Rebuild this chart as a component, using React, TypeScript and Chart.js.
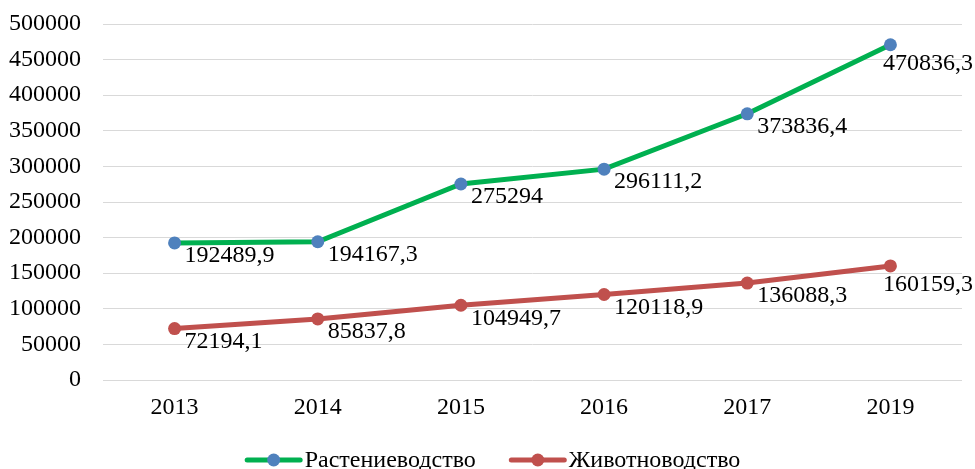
import React, { useEffect, useRef } from "react";
import { Chart, registerables } from "chart.js";

Chart.register(...registerables);

const years = ["2013", "2014", "2015", "2016", "2017", "2019"];
const cropValues = [192489.9, 194167.3, 275294, 296111.2, 373836.4, 470836.3];
const livestockValues = [72194.1, 85837.8, 104949.7, 120118.9, 136088.3, 160159.3];
const seriesNames = ["Растениеводство", "Животноводство"];
const yMin = 0;
const yMax = 500000;
const yStep = 50000;

const FONT = '"Liberation Serif", "Times New Roman", serif';
const FS = 24;
const GREEN = "#00b050";
const BLUE = "#4f81bd";
const RED = "#c0504d";

const fmt = (v: number) => String(v).replace(".", ",");

const labelPlugin = {
  id: "valueLabels",
  afterDatasetsDraw(chart: any) {
    const ctx = chart.ctx;
    ctx.save();
    ctx.font = `${FS}px ${FONT}`;
    ctx.fillStyle = "#000";
    ctx.textAlign = "left";
    ctx.textBaseline = "middle";
    chart.data.datasets.forEach((ds: any, i: number) => {
      const meta = chart.getDatasetMeta(i);
      meta.data.forEach((pt: any, j: number) => {
        const text = fmt(ds.data[j]);
        const w = ctx.measureText(text).width;
        let x = pt.x + 10;
        let y = pt.y + 13;
        if (x + w > chart.width - 2) {
          x = chart.width - 2 - w;
          y = pt.y + 19;
        }
        ctx.fillText(text, x, y);
      });
    });
    ctx.restore();
  },
};

const legendPlugin = {
  id: "lineLegend",
  afterDraw(chart: any) {
    const ctx = chart.ctx;
    ctx.save();
    ctx.font = `${FS}px ${FONT}`;
    ctx.textAlign = "left";
    ctx.textBaseline = "middle";
    const iconW = 58;
    const gapText = 2;
    const gapItem = 33;
    const ds = chart.data.datasets;
    const widths = ds.map((d: any) => iconW + gapText + ctx.measureText(d.label).width);
    const total = widths.reduce((a: number, b: number) => a + b, 0) + gapItem * (ds.length - 1);
    let x = chart.width / 2 + 5 - total / 2;
    const y = 460;
    ds.forEach((d: any, i: number) => {
      ctx.strokeStyle = d.borderColor;
      ctx.lineWidth = 5;
      ctx.lineCap = "round";
      ctx.beginPath();
      ctx.moveTo(x + 2.5, y);
      ctx.lineTo(x + iconW - 2.5, y);
      ctx.stroke();
      ctx.fillStyle = d.pointBackgroundColor;
      ctx.beginPath();
      ctx.arc(x + iconW / 2, y, 6.5, 0, Math.PI * 2);
      ctx.fill();
      ctx.fillStyle = "#000";
      ctx.fillText(d.label, x + iconW + gapText, y + 1);
      x += widths[i] + gapItem;
    });
    ctx.restore();
  },
};

export default function App() {
  const ref = useRef<HTMLCanvasElement>(null);

  useEffect(() => {
    if (!ref.current) return;
    const chart = new Chart(ref.current, {
      type: "line",
      data: {
        labels: years,
        datasets: [
          {
            label: seriesNames[0],
            data: cropValues,
            borderColor: GREEN,
            backgroundColor: BLUE,
            borderWidth: 5,
            pointRadius: 6.5,
            pointBackgroundColor: BLUE,
            pointBorderWidth: 0,
            tension: 0,
          },
          {
            label: seriesNames[1],
            data: livestockValues,
            borderColor: RED,
            backgroundColor: RED,
            borderWidth: 5,
            pointRadius: 6.5,
            pointBackgroundColor: RED,
            pointBorderWidth: 0,
            tension: 0,
          },
        ],
      },
      options: {
        responsive: false,
        animation: false,
        devicePixelRatio: 1,
        layout: { padding: { top: 24, right: 13, left: 0, bottom: 0 } },
        scales: {
          y: {
            min: yMin,
            max: yMax,
            ticks: {
              stepSize: yStep,
              font: { family: FONT, size: FS },
              color: "#000",
              padding: 22,
              callback: (v: any) => String(v),
            },
            grid: { color: "#d9d9d9", lineWidth: 1, drawTicks: false },
            border: { display: false },
            afterFit: (s: any) => {
              s.width = 103;
              s.paddingTop = 0;
              s.paddingBottom = 0;
            },
          },
          x: {
            offset: true,
            ticks: {
              font: { family: FONT, size: FS },
              color: "#000",
              padding: 5,
            },
            grid: { display: false },
            border: { display: false },
            afterFit: (s: any) => {
              s.height = 89;
              s.paddingLeft = 0;
              s.paddingRight = 0;
            },
          },
        },
        plugins: {
          tooltip: { enabled: false },
          legend: { display: false },
        },
      },
      plugins: [labelPlugin, legendPlugin],
    } as any);
    return () => chart.destroy();
  }, []);

  return (
    <div style={{ position: "absolute", left: 0, top: 0, width: 975, height: 469, background: "#fff" }}>
      <canvas ref={ref} width={975} height={469} />
    </div>
  );
}
